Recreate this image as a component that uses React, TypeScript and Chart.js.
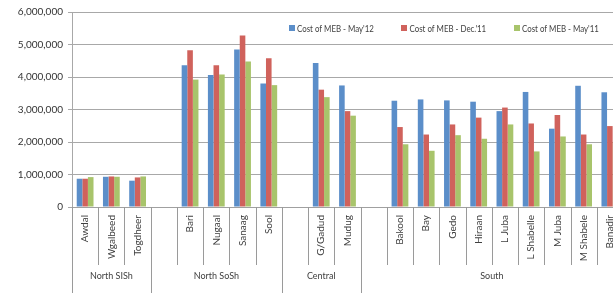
import React, { useEffect, useRef } from "react";
import { Chart, registerables } from "chart.js";

Chart.register(...registerables);

const categories = [
  "Awdal", "Wgalbeed", "Togdheer",
  "", "Bari", "Nugaal", "Sanaag", "Sool",
  "", "G/Gadud", "Mudug",
  "", "Bakool", "Bay", "Gedo", "Hiraan", "L Juba", "L Shabelle", "M Juba", "M Shabele", "Banadir",
];

const groupNames = ["North SISh", "North SoSh", "Central", "South"];
const groupSizes = [3, 5, 3, 10];

const seriesNames = ["Cost of MEB - May'12", "Cost of MEB - Dec.'11", "Cost of MEB - May'11"];

const may12 = [
  870000, 930000, 810000,
  null, 4360000, 4060000, 4850000, 3800000,
  null, 4430000, 3740000,
  null, 3270000, 3310000, 3280000, 3240000, 2950000, 3540000, 2410000, 3730000, 3530000,
];
const dec11 = [
  870000, 940000, 910000,
  null, 4820000, 4360000, 5280000, 4580000,
  null, 3610000, 2950000,
  null, 2460000, 2230000, 2540000, 2750000, 3060000, 2570000, 2830000, 2230000, 2490000,
];
const may11 = [
  920000, 930000, 940000,
  null, 3920000, 4080000, 4480000, 3750000,
  null, 3380000, 2810000,
  null, 1930000, 1730000, 2210000, 2100000, 2540000, 1710000, 2170000, 1930000, 2000000,
];

const yTicksMax = 6000000;
const yStep = 1000000;

const colors = ["#5b8ec9", "#d0625c", "#a8c46b"];

const overlayPlugin = {
  id: "overlay",
  afterDraw(chart: any) {
    const ctx = chart.ctx;
    const xs = chart.scales.x;
    const area = chart.chartArea;
    const n = categories.length;
    const catW = (xs.right - xs.left) / n;
    const groupBounds = new Set<number>();
    let acc = 0;
    groupBounds.add(0);
    groupSizes.forEach((s) => {
      acc += s;
      groupBounds.add(acc);
    });
    ctx.save();
    ctx.strokeStyle = "#9a9a9a";
    ctx.lineWidth = 1;
    for (let i = 0; i <= n; i++) {
      const x = Math.round(xs.left + i * catW) + 0.5;
      const isGroup = groupBounds.has(i);
      ctx.beginPath();
      ctx.moveTo(x, area.bottom);
      ctx.lineTo(x, isGroup ? area.bottom + 86 : area.bottom + 58);
      ctx.stroke();
    }
    // group labels
    ctx.fillStyle = "#404040";
    ctx.font = '9px Lato, "Open Sans", sans-serif';
    ctx.textAlign = "center";
    ctx.textBaseline = "middle";
    let start = 0;
    groupSizes.forEach((s, gi) => {
      const cx = xs.left + (start + s / 2) * catW;
      ctx.fillText(groupNames[gi], cx, area.bottom + 69);
      start += s;
    });
    // legend
    const legendStart = xs.right - 334;
    const legendStep = 112.5;
    ctx.textAlign = "left";
    ctx.font = '9.5px Lato, "Open Sans", sans-serif';
    seriesNames.forEach((name, i) => {
      const x = legendStart + i * legendStep;
      ctx.fillStyle = colors[i];
      ctx.fillRect(Math.round(x), 25, 6, 6);
      ctx.fillStyle = "#404040";
      ctx.save();
      ctx.translate(x + 8, 28.5);
      ctx.scale(0.83, 1);
      ctx.fillText(name, 0, 0);
      ctx.restore();
    });
    ctx.restore();
  },
};

export default function App() {
  const ref = useRef<HTMLCanvasElement | null>(null);
  useEffect(() => {
    if (!ref.current) return;
    Chart.defaults.font.family = 'Lato, "Open Sans", sans-serif';
    const chart = new Chart(ref.current, {
      type: "bar",
      data: {
        labels: categories,
        datasets: [may12, dec11, may11].map((d, i) => ({
          label: seriesNames[i],
          data: d as any,
          backgroundColor: colors[i],
          borderWidth: 0,
          barPercentage: 1,
          categoryPercentage: 0.64,
        })),
      },
      options: {
        responsive: false,
        animation: false,
        layout: { padding: { left: 0, right: 6, top: 12, bottom: 0 } },
        plugins: { legend: { display: false }, tooltip: { enabled: false } },
        scales: {
          x: {
            grid: { display: false, drawTicks: false },
            border: { display: true, color: "#a0a0a0" },
            ticks: {
              autoSkip: false,
              maxRotation: 90,
              minRotation: 90,
              padding: 8,
              color: "#404040",
              font: { size: 10 },
            },
            afterFit: (scale: any) => {
              scale.height = 87;
            },
          },
          y: {
            min: 0,
            max: yTicksMax,
            ticks: {
              stepSize: yStep,
              padding: 5,
              color: "#333333",
              font: { size: 10 },
              callback: (v: any) => Number(v).toLocaleString("en-US"),
            },
            grid: { color: "#a8a8a8", tickLength: 4 },
            border: { display: true, color: "#a8a8a8" },
            afterFit: (scale: any) => {
              scale.width = 72;
            },
          },
        },
      },
      plugins: [overlayPlugin],
    });
    return () => chart.destroy();
  }, []);
  return (
    <div
      style={{
        position: "fixed",
        left: 0,
        top: 0,
        width: 613,
        height: 294,
        overflow: "hidden",
        background: "#fff",
      }}
    >
      <canvas ref={ref} width={630} height={294} />
    </div>
  );
}
